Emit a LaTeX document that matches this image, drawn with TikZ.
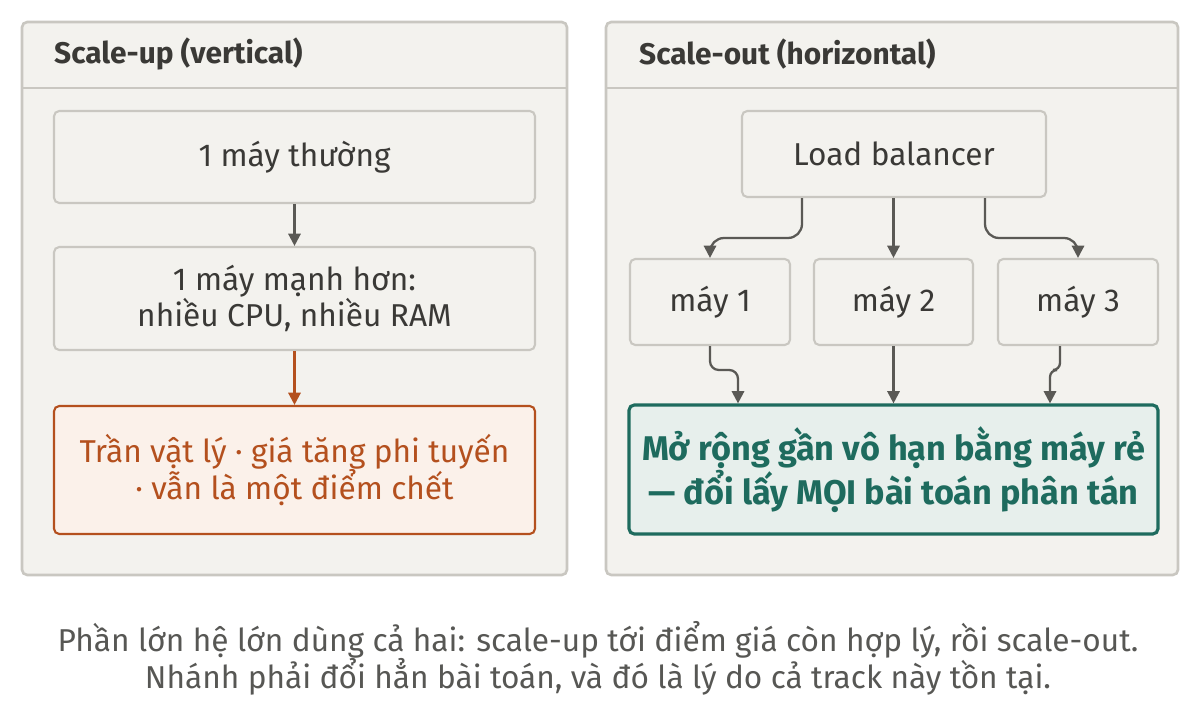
\documentclass[tikz,border=0pt]{standalone}
\usepackage{fontspec}
\setmainfont{Fira Sans}
\usetikzlibrary{arrows.meta,positioning,calc}
\definecolor{panelbg}{HTML}{F3F2EE}
\definecolor{panelln}{HTML}{C9C7C1}
\definecolor{inkdark}{HTML}{3A3936}
\definecolor{arrowgray}{HTML}{5A5955}
\definecolor{rustln}{HTML}{B4501E}
\definecolor{rustbg}{HTML}{FBF1EA}
\definecolor{tealln}{HTML}{1E6B5E}
\definecolor{tealbg}{HTML}{E7EFEC}
\tikzset{
  panel/.style = {draw=panelln, fill=panelbg, line width=1.5pt, rounded corners=3pt},
  box/.style = {draw=panelln, fill=panelbg, line width=1.2pt, rounded corners=3pt,
    align=center, text=inkdark, font=\fontsize{18}{21}\selectfont, inner sep=0pt},
  hdr/.style = {anchor=west, text=inkdark, font=\bfseries\fontsize{17}{20}\selectfont},
  conn/.style = {draw=arrowgray, line width=1.3pt, rounded corners=8pt,
    -{Triangle[length=7pt,width=7pt]}}
}
\begin{document}
\begin{tikzpicture}[x=0.02cm,y=-0.02cm]
\useasboundingbox (0,0) rectangle (1196,715);
% panels
\draw[panel] (22,22) rectangle (567,575);
\draw[panelln, line width=1.2pt] (22,88) -- (567,88);
\node[hdr] (lhead) at (48,54) {Scale-up (vertical)};
\draw[panel] (606,22) rectangle (1178,575);
\draw[panelln, line width=1.2pt] (606,88) -- (1178,88);
\node[hdr] (rhead) at (633,54) {Scale-out (horizontal)};
% left column
\node[box, minimum width=481*0.02cm, minimum height=92*0.02cm] (normal) at (294.5,157) {1 máy thường};
\node[box, minimum width=481*0.02cm, minimum height=103*0.02cm] (strong) at (294.5,298.5) {1 máy mạnh hơn:\\nhiều CPU, nhiều RAM};
\node[box, draw=rustln, fill=rustbg, text=rustln, minimum width=481*0.02cm, minimum height=128*0.02cm] (ceiling) at (294.5,470) {Trần vật lý · giá tăng phi tuyến\\· vẫn là một điểm chết};
\draw[conn] (normal) -- (strong);
\draw[conn, draw=rustln, -{Triangle[length=7pt,width=7pt]}] (strong) -- (ceiling);
% right column
\node[box, minimum width=304*0.02cm, minimum height=86*0.02cm] (lb) at (894,154) {Load balancer};
\node[box, minimum width=160*0.02cm, minimum height=86*0.02cm] (m1) at (710,302) {máy 1};
\node[box, minimum width=159*0.02cm, minimum height=86*0.02cm] (m2) at (893.5,302) {máy 2};
\node[box, minimum width=160*0.02cm, minimum height=86*0.02cm] (m3) at (1078,302) {máy 3};
\node[box, draw=tealln, fill=tealbg, text=tealln, line width=1.8pt, font=\bfseries\fontsize{19.5}{22}\selectfont,
  minimum width=529*0.02cm, minimum height=129*0.02cm] (cheap) at (893.5,469.5) {Mở rộng gần vô hạn bằng máy rẻ\\— đổi lấy MỌI bài toán phân tán};
\draw[conn] (lb.south -| 802,0) |- (760,238) -| (m1.north);
\draw[conn] (lb.south -| m2) -- (m2.north);
\draw[conn] (lb.south -| 985,0) |- (1030,238) -| (m3.north);
\draw[conn, rounded corners=5pt] (m1.south) |- (738,370) -- (cheap.north -| 738,0);
\draw[conn] (m2.south) -- (cheap.north -| m2);
\draw[conn, rounded corners=4pt] (m3.south -| 1060,0) |- (1050,370) -- (cheap.north -| 1050,0);
% caption
\node[text=inkdark!85, align=center, font=\fontsize{18}{21}\selectfont] (caption) at (598,658)
  {Phần lớn hệ lớn dùng cả hai: scale-up tới điểm giá còn hợp lý, rồi scale-out.\\Nhánh phải đổi hẳn bài toán, và đó là lý do cả track này tồn tại.};
\end{tikzpicture}
\end{document}
